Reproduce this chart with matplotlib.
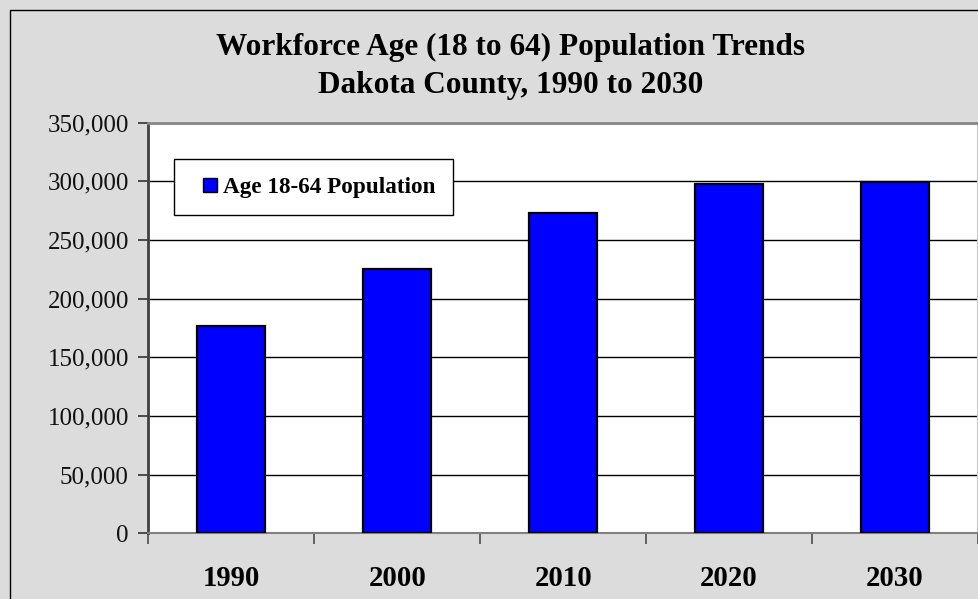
import matplotlib
matplotlib.use("Agg")
import matplotlib.pyplot as plt
from matplotlib.patches import Rectangle
from matplotlib.container import BarContainer
from matplotlib.legend_handler import HandlerPatch
from matplotlib.ticker import FuncFormatter, FixedLocator

years = ["1990", "2000", "2010", "2020", "2030"]
population = [176400, 225600, 273200, 297900, 299300]
series_name = "Age 18-64 Population"
title_lines = ["Workforce Age (18 to 64) Population Trends",
               "Dakota County, 1990 to 2030"]

W, H = 979, 599
BG = "#dcdcdc"
SERIF = ["Liberation Serif", "DejaVu Serif"]

fig = plt.figure(figsize=(W / 100, H / 100), dpi=100, facecolor=BG)

# chart-area border (top and left edges visible)
fig.patches.append(Rectangle((9.5 / W, -0.2), 1.5, 1.2 - 9.5 / H,
                             transform=fig.transFigure, fill=False,
                             edgecolor="black", linewidth=1.0, zorder=0))

ax = fig.add_axes([148.3 / W, 1 - 533.3 / H, (978 - 148.3) / W, (533.3 - 122.5) / H])
ax.set_facecolor("white")

x = list(range(len(years)))
bars = ax.bar(x, population, width=0.41, color="#0000ff", edgecolor="black",
              linewidth=1.6, zorder=3, label=series_name)

ax.set_xlim(-0.5, len(years) - 0.5)
ax.set_ylim(0, 350000)
ax.set_yticks(range(0, 350001, 50000))
ax.yaxis.set_major_formatter(FuncFormatter(lambda v, p: f"{int(v):,}"))
ax.grid(axis="y", color="black", linewidth=1.0, zorder=1)
ax.set_axisbelow(True)

# category labels centred on bars, tick marks between categories
ax.set_xticks(x)
ax.set_xticklabels(years, fontfamily=SERIF, fontweight="bold", fontsize=20.7)
ax.tick_params(axis="x", which="major", length=0, pad=23)
ax.xaxis.set_minor_locator(FixedLocator([i - 0.5 for i in range(len(years) + 1)]))
ax.tick_params(axis="x", which="minor", length=8, width=1.4, color="#606060")
ax.tick_params(axis="y", length=7, width=1.2, color="#303030", pad=7)
for lbl in ax.get_yticklabels():
    lbl.set_fontfamily(SERIF)
    lbl.set_fontsize(18)
    lbl.set_color("#111111")

ax.spines["left"].set_color("#404040")
ax.spines["left"].set_linewidth(2.0)
ax.spines["bottom"].set_color("#808080")
ax.spines["bottom"].set_linewidth(1.5)
ax.spines["top"].set_color("#888888")
ax.spines["top"].set_linewidth(2.0)
ax.spines["right"].set_color("#c8c8c8")
ax.spines["right"].set_linewidth(1.5)

for i, line in enumerate(title_lines):
    fig.text(511 / W, 1 - (47 + 38.5 * i) / H, line, ha="center", va="center",
             fontfamily=SERIF, fontweight="bold", fontsize=22.5, color="black")


def square_key(legend, orig_handle, xdescent, ydescent, width, height, fontsize):
    side = 10.1
    return Rectangle((-xdescent + width - side, -ydescent + (height - side) / 2),
                     side, side)


def copy_bar_style(legend_handle, orig_handle):
    legend_handle.update_from(orig_handle.patches[0])
    legend_handle.set_linewidth(1.0)


leg = ax.legend(loc="upper left", bbox_to_anchor=(174 / W, 1 - 159 / H),
                bbox_transform=fig.transFigure, borderaxespad=0,
                prop={"family": SERIF, "weight": "bold", "size": 16.7},
                frameon=True, fancybox=False, shadow=False, framealpha=1,
                edgecolor="black", borderpad=0.75, handlelength=1.1,
                handleheight=0.7, handletextpad=0.26,
                handler_map={BarContainer: HandlerPatch(patch_func=square_key,
                                                        update_func=copy_bar_style)})
leg.get_frame().set_linewidth(1.0)

fig.savefig("out.png", dpi=100, facecolor=BG)
